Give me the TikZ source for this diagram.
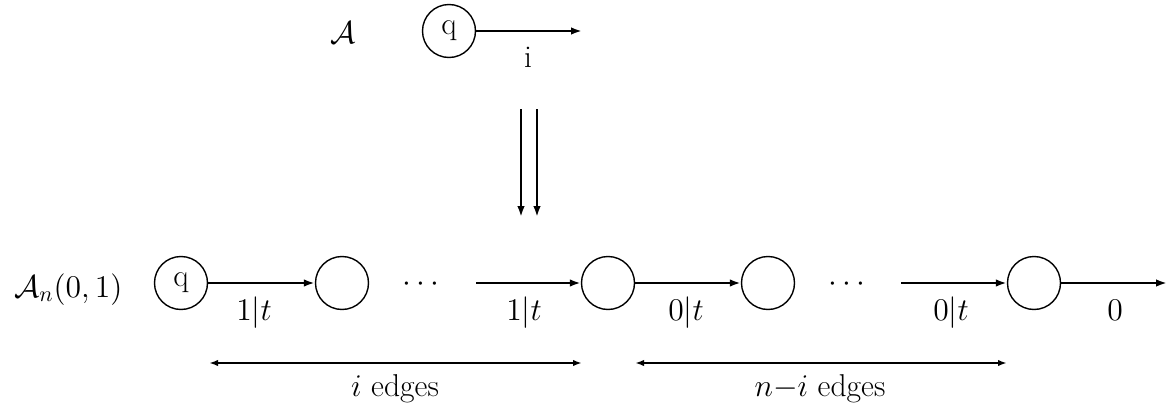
\RequirePackage{fix-cm}
\documentclass[tikz,border=0pt]{standalone}
\usetikzlibrary{arrows.meta}
\begin{document}
\begin{tikzpicture}[x=0.5pt,y=-0.5pt,
  every node/.style={font=\fontsize{15.8}{19}\selectfont},
  state/.style={circle,draw,line width=0.7pt,minimum size=26.5pt,inner sep=0pt},
  arr/.style={line width=1.45pt,-{Latex[length=5.5pt,width=3.8pt]}},
  dbl/.style={line width=1.25pt,{Latex[length=4.5pt,width=3.2pt]}-{Latex[length=4.5pt,width=3.2pt]}}]
\useasboundingbox (0,0) rectangle (1169,407);
% top automaton
\node[anchor=base] (A) at (343,43) {$\mathcal{A}$};
\node[state] (q0) at (449,31) {q};
\coordinate (t0) at (582,31);
\draw[arr] (q0) -- (t0);
\node[anchor=base] (li) at (528,68) {i};
% double arrows
\coordinate (d1s) at (521,109);
\coordinate (d1e) at (521,217);
\coordinate (d2s) at (537,109);
\coordinate (d2e) at (537,217);
\draw[arr] (d1s) -- (d1e);
\draw[arr] (d2s) -- (d2e);
% bottom automaton
\node[anchor=base west] (An) at (7,297) {$\mathcal{A}_n(0,1)$};
\node[state] (q1) at (181,283) {q};
\node[state] (c2) at (342,283) {};
\node[anchor=base] (dots1) at (421,291) {$\cdots$};
\coordinate (s3) at (476,283);
\node[state] (c3) at (608,283) {};
\node[state] (c4) at (768,283) {};
\node[anchor=base] (dots2) at (847,291) {$\cdots$};
\coordinate (s5) at (901,283);
\node[state] (c5) at (1034,283) {};
\coordinate (e5) at (1167,283);
\draw[arr] (q1) -- (c2);
\draw[arr] (s3) -- (c3);
\draw[arr] (c3) -- (c4);
\draw[arr] (s5) -- (c5);
\draw[arr] (c5) -- (e5);
\node[anchor=base] (l1) at (254,320) {$1|t$};
\node[anchor=base] (l2) at (524,320) {$1|t$};
\node[anchor=base] (l3) at (686,320) {$0|t$};
\node[anchor=base] (l4) at (951,320) {$0|t$};
\node[anchor=base] (l5) at (1115,320) {$0$};
% edge counts
\coordinate (b1s) at (209,363);
\coordinate (b1e) at (582,363);
\coordinate (b2s) at (635,363);
\coordinate (b2e) at (1007,363);
\draw[dbl] (b1s) -- (b1e);
\draw[dbl] (b2s) -- (b2e);
\node[anchor=base] (n1) at (395,396) {$i$ edges};
\node[anchor=base] (n2) at (820,396) {$n{-}i$ edges};
\end{tikzpicture}
\end{document}
